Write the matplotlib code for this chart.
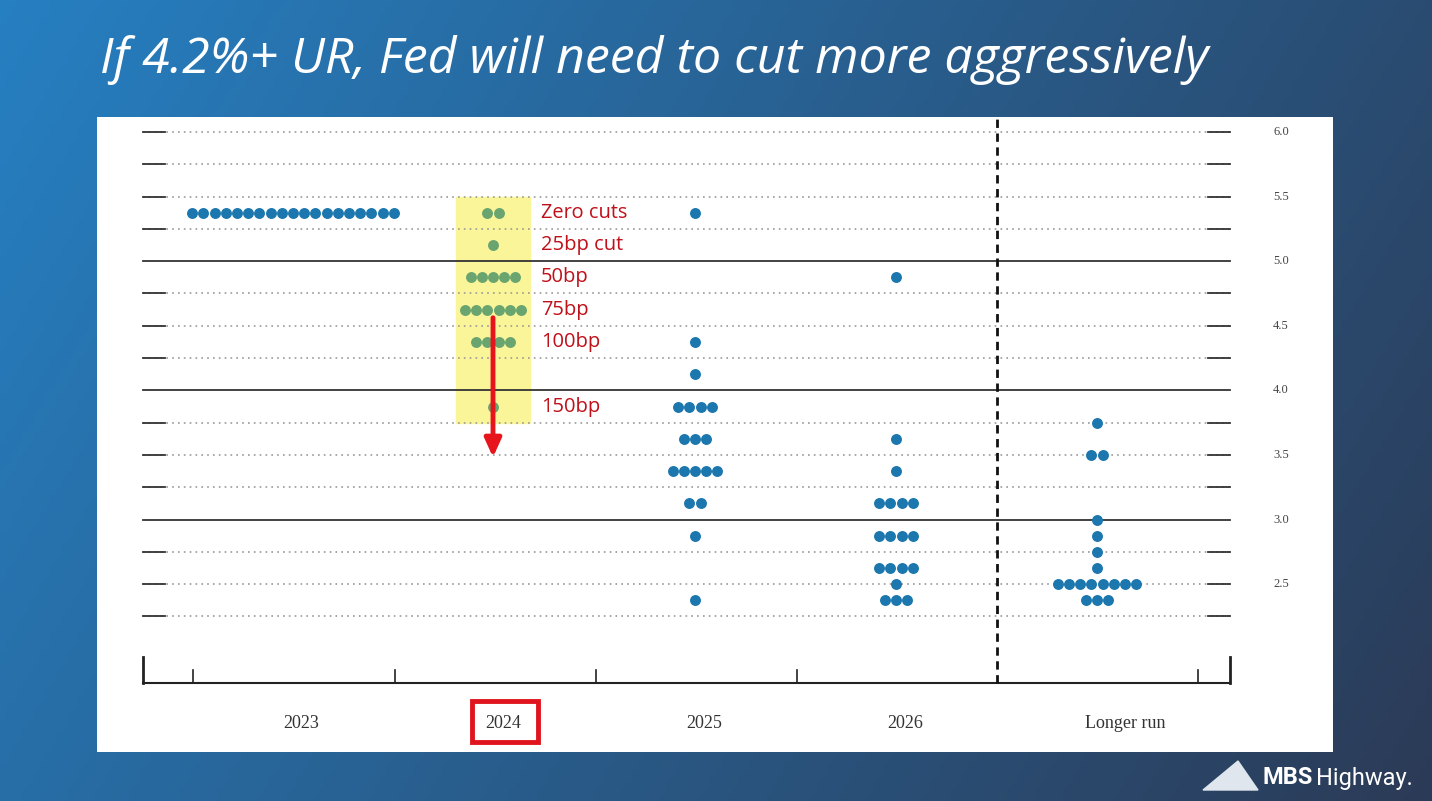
import numpy as np
import matplotlib.pyplot as plt
from matplotlib.patches import Rectangle, Polygon

# dot plot data: (rate, count) per group
dots_2023 = [(5.375, 19)]
dots_2024 = [(5.375, 2), (5.125, 1), (4.875, 5), (4.625, 6), (4.375, 4), (3.875, 1)]
dots_2025 = [(5.375, 1), (4.375, 1), (4.125, 1), (3.875, 4), (3.625, 3),
             (3.375, 5), (3.125, 2), (2.875, 1), (2.375, 1)]
dots_2026 = [(4.875, 1), (3.625, 1), (3.375, 1), (3.125, 4), (2.875, 4),
             (2.625, 4), (2.5, 1), (2.375, 3)]
dots_longer = [(3.75, 1), (3.5, 2), (3.0, 1), (2.875, 1), (2.75, 1),
               (2.625, 1), (2.5, 8), (2.375, 3)]

categories = ["2023", "2024", "2025", "2026", "Longer run"]
y_ticks = [2.5, 3.0, 3.5, 4.0, 4.5, 5.0, 5.5, 6.0]
annotations = [(5.375, "Zero cuts"), (5.125, "25bp cut"), (4.875, "50bp"),
               (4.625, "75bp"), (4.375, "100bp"), (3.875, "150bp")]

W, H = 1432, 801
fig = plt.figure(figsize=(W / 100, H / 100), dpi=100)

# background gradient
bg = fig.add_axes([0, 0, 1, 1])
gx = np.linspace(0, 1, 256)
gy = np.linspace(0, 1, 128)
GX, GY = np.meshgrid(gx, gy)
t = np.clip(0.75 * GX + 0.25 * GY, 0, 1)
c0 = np.array([0.15, 0.50, 0.76])
c1 = np.array([0.17, 0.23, 0.34])
img = c0[None, None, :] * (1 - t[..., None]) + c1[None, None, :] * t[..., None]
bg.imshow(img, aspect="auto", extent=[0, 1, 0, 1], origin="upper")
bg.set_xlim(0, 1); bg.set_ylim(0, 1)
bg.axis("off")

fig.text(100 / W, 1 - 60 / H, "If 4.2%+ UR, Fed will need to cut more aggressively",
         color="white", fontsize=36, fontstyle="italic", family="Open Sans",
         va="center", ha="left")

# logo
bg.add_patch(Polygon([[1203 / W, 1 - 790 / H], [1238 / W, 1 - 761 / H],
                      [1258 / W, 1 - 790 / H]], closed=True, color="#dfe6ee",
                     transform=bg.transAxes))
fig.text(1262 / W, 1 - 778 / H, "MBS", color="white", fontsize=17,
         fontweight="bold", family="Roboto", va="center")
fig.text(1316 / W, 1 - 778 / H, "Highway.", color="white", fontsize=17,
         family="Roboto", va="center")

# chart panel: x in pixels, y in rate
ax = fig.add_axes([97 / W, 1 - 752 / H, 1236 / W, 635 / H])
ax.set_facecolor("white")
px_per_unit = 129.2
def ry(ypix):
    return 6.0 - (ypix - 132) / px_per_unit
ax.set_xlim(97, 1333)
ax.set_ylim(ry(752), ry(117))
for s in ax.spines.values():
    s.set_visible(False)
ax.set_xticks([]); ax.set_yticks([])

x_left, x_right = 143, 1230
for lvl in np.arange(2.25, 6.01, 0.25):
    if lvl in (3.0, 4.0, 5.0):
        ax.plot([x_left, x_right], [lvl, lvl], color="#333333", lw=1.3)
    else:
        ax.plot([x_left, x_right], [lvl, lvl], color="#999999", lw=1.2, ls=(0, (1, 2.5)))
        ax.plot([x_left, x_left + 22], [lvl, lvl], color="#333333", lw=1.3)
        ax.plot([x_right - 22, x_right], [lvl, lvl], color="#333333", lw=1.3)

for v in y_ticks:
    ax.text(1273, v, f"{v:.1f}", fontsize=9, family="Liberation Serif",
            color="#444444", va="center", ha="left")

# bottom axis
y_axis = ry(683)
ax.plot([x_left, x_right], [y_axis, y_axis], color="#222222", lw=1.5)
for xt in [193, 395, 596, 797, 1198]:
    ax.plot([xt, xt], [y_axis, ry(670)], color="#222222", lw=1.2)
for xt in [x_left, x_right]:
    ax.plot([xt, xt], [y_axis, ry(657)], color="#222222", lw=2)
ax.plot([997, 997], [y_axis, ry(117)], color="#111111", lw=2, ls=(0, (3, 2)))

label_x = [301, 503, 704, 905, 1125]
for lx, lab in zip(label_x, categories):
    ax.text(lx, ry(724), lab, fontsize=13, family="Liberation Serif",
            color="#333333", ha="center", va="center")

# highlight and annotations for 2024
ax.add_patch(Rectangle((456, ry(423)), 74, ry(197) - ry(423),
                       color="#fbf59a", zorder=1))
ax.add_patch(Rectangle((472, ry(742)), 66, ry(701) - ry(742), fill=False,
                       ec="#e0141e", lw=3.5, zorder=3))

group_x = [293, 493, 695, 896, 1097]
groups = [dots_2023, dots_2024, dots_2025, dots_2026, dots_longer]
spacing = 11.2
for gx_c, grp, i in zip(group_x, groups, range(5)):
    col = "#6aa56f" if i == 1 else "#1b77ad"
    for rate, n in grp:
        xs = gx_c + (np.arange(n) - (n - 1) / 2) * spacing
        ax.scatter(xs, [rate] * n, s=62, color=col, zorder=4, linewidths=0)

for rate, txt in annotations:
    ax.text(541, rate, txt, color="#c0101a", fontsize=14.5, family="Open Sans",
            va="center", ha="left", zorder=5)

ax.annotate("", xy=(493, ry(460)), xytext=(493, ry(315)),
            arrowprops=dict(arrowstyle="-|>,head_width=0.5,head_length=1.1",
                            color="#e8141c", lw=3.5), zorder=6)

fig.savefig("out.png", dpi=100)
